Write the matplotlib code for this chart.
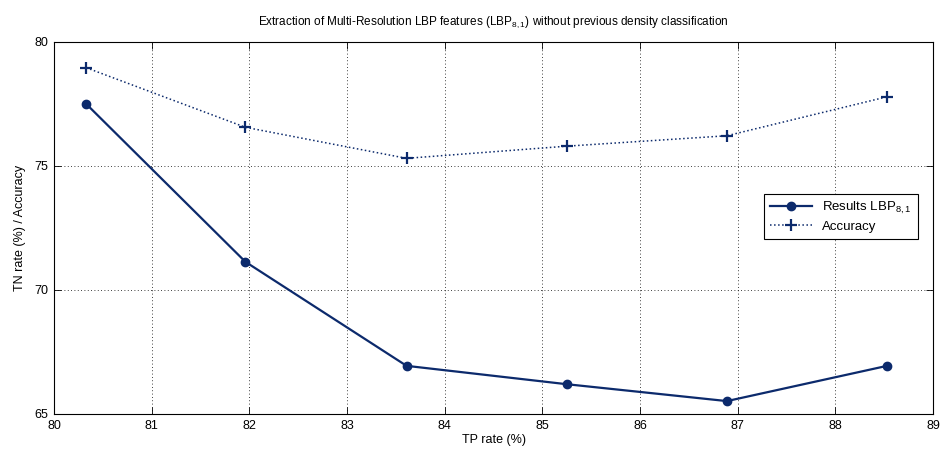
import matplotlib
matplotlib.use("Agg")
import matplotlib.pyplot as plt

plt.rcParams['font.family'] = ['Liberation Sans Narrow', 'Liberation Sans', 'DejaVu Sans']
plt.rcParams['mathtext.default'] = 'regular'
plt.rcParams['font.size'] = 8.5

# data
tp_rate = [80.33, 81.96, 83.61, 85.25, 86.89, 88.53]
results_lbp = [77.49, 71.13, 66.94, 66.20, 65.52, 66.94]
accuracy = [78.95, 76.55, 75.30, 75.79, 76.21, 77.78]
xticks = list(range(80, 90))
yticks = [65, 70, 75, 80]

col = '#0c2a6c'

fig = plt.figure(figsize=(9.41, 4.53), dpi=100)
ax = fig.add_axes([0.0574, 0.0861, 0.9341, 0.8219])

ax.plot(tp_rate, results_lbp, '-o', color=col, lw=1.6, ms=6,
        label='Results LBP$_{8,1}$')
ax.plot(tp_rate, accuracy, ':+', color=col, lw=1.1, ms=8, mew=1.6,
        label='Accuracy')

ax.set_xlim(80, 89)
ax.set_ylim(65, 80)
ax.set_xticks(xticks)
ax.set_yticks(yticks)
ax.grid(True, color='black', linestyle=(0, (1, 3)), linewidth=0.6)
ax.tick_params(direction='in', top=True, right=True, length=5, width=0.6,
               labelsize=9, pad=4)
for s in ax.spines.values():
    s.set_linewidth(0.8)

ax.set_xlabel('TP rate (%)', fontsize=9, labelpad=2)
ax.set_ylabel('TN rate (%) / Accuracy', fontsize=9, labelpad=6)
ax.set_title('Extraction of Multi-Resolution LBP features (LBP$_{8,1}$) without previous density classification',
             fontsize=8.5, pad=12)

leg = ax.legend(loc='upper right', bbox_to_anchor=(0.990, 0.608), fancybox=False,
                framealpha=1, edgecolor='black', fontsize=9.5, handlelength=3.2,
                borderpad=0.45, labelspacing=0.35)
leg.get_frame().set_linewidth(0.8)

fig.savefig('out.png', dpi=100)
